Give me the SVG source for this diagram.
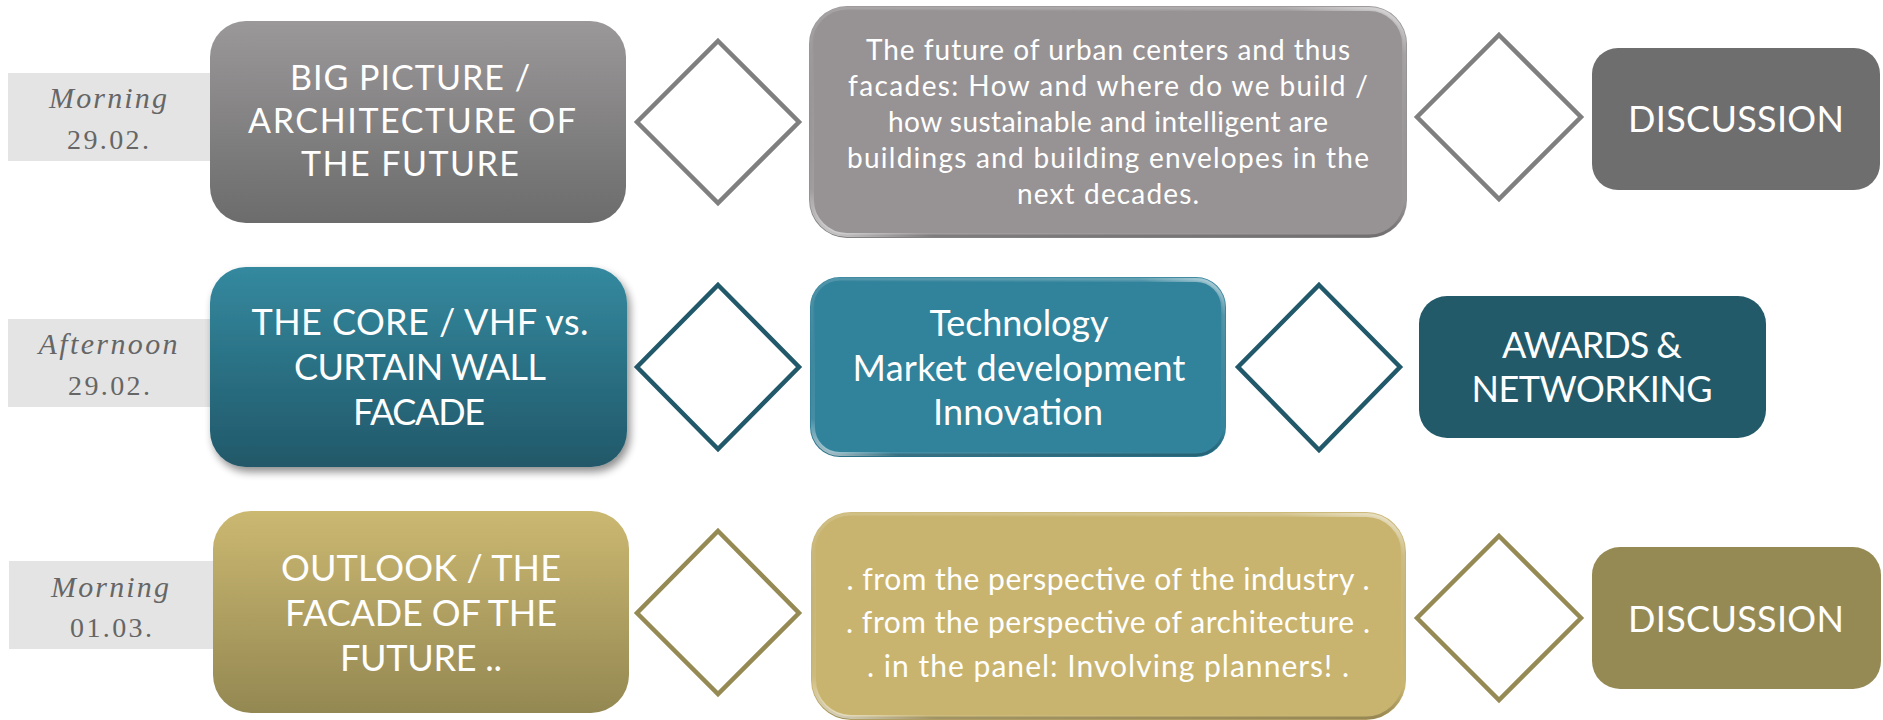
<svg xmlns="http://www.w3.org/2000/svg" width="1883" height="720" viewBox="0 0 1883 720">
<defs>
<linearGradient id="gGray" x1="0" y1="0" x2="0" y2="1"><stop offset="0" stop-color="#9b989a"/><stop offset="1" stop-color="#6c6c6c"/></linearGradient>
<linearGradient id="gTeal" x1="0" y1="0" x2="0" y2="1"><stop offset="0" stop-color="#34899f"/><stop offset="1" stop-color="#215869"/></linearGradient>
<linearGradient id="gGold" x1="0" y1="0" x2="0" y2="1"><stop offset="0" stop-color="#cbb871"/><stop offset="1" stop-color="#948852"/></linearGradient>
<linearGradient id="bevel" x1="1" y1="0" x2="0" y2="1"><stop offset="0" stop-color="#ffffff" stop-opacity="0.6"/><stop offset="0.1" stop-color="#ffffff" stop-opacity="0.1"/><stop offset="0.5" stop-color="#ffffff" stop-opacity="0"/><stop offset="0.9" stop-color="#ffffff" stop-opacity="0.1"/><stop offset="1" stop-color="#ffffff" stop-opacity="0.7"/></linearGradient>
<linearGradient id="edge" x1="0" y1="0" x2="0" y2="1"><stop offset="0" stop-color="#ffffff" stop-opacity="0.15"/><stop offset="0.85" stop-color="#000000" stop-opacity="0"/><stop offset="1" stop-color="#000000" stop-opacity="0.25"/></linearGradient>
<filter id="shadow" x="-10%" y="-10%" width="125%" height="130%"><feGaussianBlur in="SourceAlpha" stdDeviation="4"/><feOffset dx="3" dy="5"/><feComponentTransfer><feFuncA type="linear" slope="0.45"/></feComponentTransfer><feMerge><feMergeNode/><feMergeNode in="SourceGraphic"/></feMerge></filter>
</defs>
<style>
.lbl{fill:#e4e4e4}
.ltxt{font-family:"Liberation Serif",serif;fill:#666666;text-anchor:middle}
.it{font-style:italic;font-size:30px}
.dt{font-size:28px}
.t{font-family:Lato,"Liberation Sans",sans-serif;fill:#ffffff;text-anchor:middle}
.big{font-size:36px}
.mid{font-size:34px}
.small{font-size:28px}
.med{font-size:30px}
.dia{fill:#ffffff;stroke-width:4.5;stroke-linejoin:miter}
.bev{fill:none;stroke:url(#bevel);stroke-width:4}
.edg{fill:none;stroke:url(#edge);stroke-width:3}
</style>
<rect width="1883" height="720" fill="#ffffff"/>

<g id="label-row1">
<rect class="lbl" x="8" y="73" width="204" height="88"/>
<text class="ltxt it" x="108" y="108" textLength="118">Morning</text>
<text class="ltxt dt" x="108" y="149" textLength="82">29.02.</text>
</g>
<g id="label-row2">
<rect class="lbl" x="8" y="319" width="204" height="88"/>
<text class="ltxt it" x="108" y="354" textLength="139">Afternoon</text>
<text class="ltxt dt" x="109" y="395" textLength="82">29.02.</text>
</g>
<g id="label-row3">
<rect class="lbl" x="9" y="561" width="204" height="88"/>
<text class="ltxt it" x="110" y="597" textLength="118">Morning</text>
<text class="ltxt dt" x="111" y="637" textLength="82">01.03.</text>
</g>

<g id="connectors">
<polygon class="dia" stroke="#7f7f7f" points="718,41 799,122 718,203 637,122"/>
<polygon class="dia" stroke="#7f7f7f" points="1499,35 1581,117 1499,199 1417,117"/>
<polygon class="dia" stroke="#22596a" points="718,285 799,367 718,449 637,367"/>
<polygon class="dia" stroke="#22596a" points="1319,285 1400,367 1319,450 1238,367"/>
<polygon class="dia" stroke="#968a54" points="718,531 799,613 718,694 637,613"/>
<polygon class="dia" stroke="#968a54" points="1499,536 1581,618 1499,700 1417,618"/>
</g>

<g id="node-big-picture">
<rect x="210" y="21" width="416" height="202" rx="36" fill="url(#gGray)"/>
<text class="t mid" x="410" y="90" textLength="240">BIG PICTURE /</text>
<text class="t mid" x="412" y="133" textLength="328">ARCHITECTURE OF</text>
<text class="t mid" x="410" y="176" textLength="218">THE FUTURE</text>
</g>
<g id="node-future-urban">
<rect x="809" y="6" width="598" height="232" rx="38" fill="#979395"/>
<rect class="edg" x="811" y="8" width="594" height="228" rx="36"/>
<rect class="bev" x="812" y="9" width="592" height="226" rx="35"/>
<text class="t small" x="1108" y="60" textLength="484">The future of urban centers and thus</text>
<text class="t small" x="1108" y="96" textLength="520">facades: How and where do we build /</text>
<text class="t small" x="1108" y="132" textLength="440">how sustainable and intelligent are</text>
<text class="t small" x="1108" y="168" textLength="522">buildings and building envelopes in the</text>
<text class="t small" x="1108" y="204" textLength="182">next decades.</text>
</g>
<g id="node-discussion-1">
<rect x="1592" y="48" width="288" height="142" rx="26" fill="#6e6e6e"/>
<text class="t big" x="1736" y="132" textLength="216">DISCUSSION</text>
</g>

<g id="node-core">
<rect x="210" y="267" width="417" height="200" rx="36" fill="url(#gTeal)" filter="url(#shadow)"/>
<text class="t big" x="420" y="335" textLength="337">THE CORE / VHF vs.</text>
<text class="t big" x="420" y="380" textLength="252">CURTAIN WALL</text>
<text class="t big" x="419" y="425" textLength="132">FACADE</text>
</g>
<g id="node-technology">
<rect x="810" y="277" width="416" height="180" rx="30" fill="#31829b"/>
<rect class="edg" x="812" y="279" width="412" height="176" rx="28"/>
<rect class="bev" x="813" y="280" width="410" height="174" rx="27"/>
<text class="t big" x="1019" y="336" textLength="179">Technology</text>
<text class="t big" x="1019" y="381" textLength="333">Market development</text>
<text class="t big" x="1018" y="425" textLength="170">Innovation</text>
</g>
<g id="node-awards">
<rect x="1419" y="296" width="347" height="142" rx="28" fill="#225a69"/>
<text class="t big" x="1592" y="358" textLength="180">AWARDS &amp;</text>
<text class="t big" x="1592" y="402" textLength="241">NETWORKING</text>
</g>

<g id="node-outlook">
<rect x="213" y="511" width="416" height="202" rx="38" fill="url(#gGold)"/>
<text class="t big" x="421" y="581" textLength="280">OUTLOOK / THE</text>
<text class="t big" x="421" y="626" textLength="272">FACADE OF THE</text>
<text class="t big" x="421" y="671" textLength="162">FUTURE ..</text>
</g>
<g id="node-perspectives">
<rect x="811" y="512" width="595" height="208" rx="40" fill="#c8b46f"/>
<rect class="edg" x="813" y="514" width="591" height="204" rx="38"/>
<rect class="bev" x="814" y="515" width="589" height="202" rx="37"/>
<text class="t med" x="1108" y="590" textLength="523">. from the perspective of the industry .</text>
<text class="t med" x="1108" y="633" textLength="524">. from the perspective of architecture .</text>
<text class="t med" x="1108" y="677" textLength="482">. in the panel: Involving planners! .</text>
</g>
<g id="node-discussion-2">
<rect x="1592" y="547" width="289" height="142" rx="28" fill="#968a54"/>
<text class="t big" x="1736" y="632" textLength="216">DISCUSSION</text>
</g>
</svg>
